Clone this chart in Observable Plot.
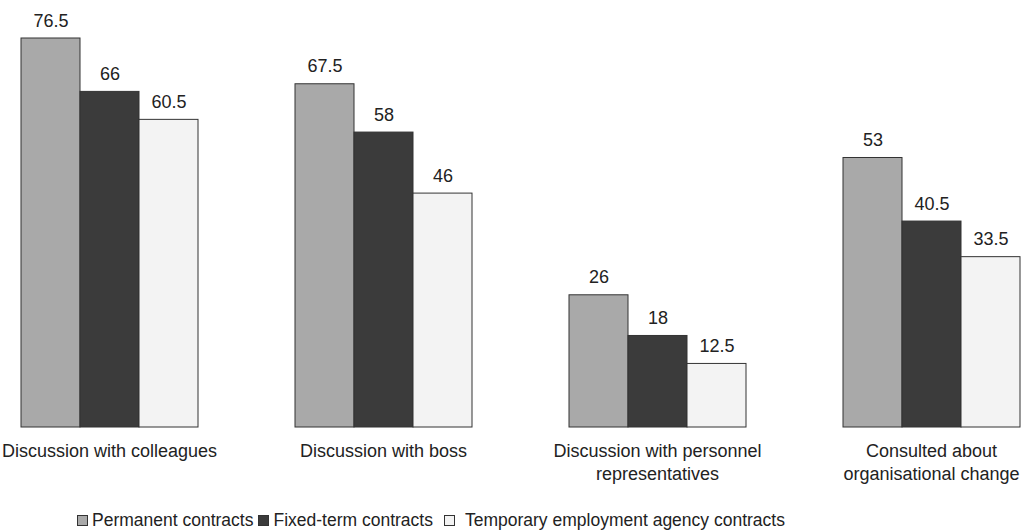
<!DOCTYPE html>
<html>
<head>
<meta charset="utf-8">
<script src="https://cdn.jsdelivr.net/npm/d3@7"></script>
<script src="https://cdn.jsdelivr.net/npm/@observablehq/plot@0.6"></script>
<style>
  body { margin: 0; background: #fff; font-family: "Liberation Sans", Arial, sans-serif; color: #222; }
  #legend { height: 40px; display: flex; align-items: center; padding-left: 77px; font-size: 17.5px; }
  #legend .item { display: flex; align-items: center; margin-right: 5px; }
  #legend .sw { width: 11px; height: 11px; border: 1px solid #333; margin-right: 4px; box-sizing: border-box; }
</style>
</head>
<body>
<div id="chart"></div>
<div id="legend"></div>
<script>
const categories = [
  "Discussion with colleagues",
  "Discussion with boss",
  "Discussion with personnel\nrepresentatives",
  "Consulted about\norganisational change"
];
const series = ["Permanent contracts", "Fixed-term contracts", "Temporary employment agency contracts"];
const permanent = [76.5, 67.5, 26, 53];
const fixedTerm = [66, 58, 18, 40.5];
const temporary = [60.5, 46, 12.5, 33.5];
const colors = ["#a9a9a9", "#3b3b3b", "#f3f3f3"];

const values = [permanent, fixedTerm, temporary];
const data = [];
categories.forEach((c, i) => {
  series.forEach((s, j) => data.push({category: c, series: s, value: values[j][i]}));
});

const chart = Plot.plot({
  width: 1029,
  height: 500,
  marginLeft: 19,
  marginRight: 8.5,
  marginTop: 38,
  marginBottom: 73,
  style: {fontFamily: "Liberation Sans, Arial, sans-serif", color: "#222", background: "#fff"},
  fx: {domain: categories, paddingInner: 0.3515, paddingOuter: 0, label: null},
  x: {domain: series, padding: 0, axis: null},
  y: {domain: [0, 76.5], axis: null},
  color: {domain: series, range: colors},
  marks: [
    Plot.barY(data, {fx: "category", x: "series", y: "value", fill: "series", stroke: "#333", strokeWidth: 1, inset: 0}),
    Plot.text(data, {fx: "category", x: "series", y: "value", text: d => String(d.value), lineAnchor: "bottom", dy: -12, fontSize: 18, fill: "#222"}),
    Plot.axisFx({anchor: "bottom", tickSize: 0, tickPadding: 14, fontSize: 18, lineHeight: 1.25, label: null, fill: "#222"})
  ]
});
document.getElementById("chart").appendChild(chart);

const legend = document.getElementById("legend");
series.forEach((s, j) => {
  const item = document.createElement("div");
  item.className = "item";
  const sw = document.createElement("span");
  sw.className = "sw";
  sw.style.background = colors[j];
  if (j === 2) { sw.style.marginRight = "10px"; sw.style.marginLeft = "6px"; }
  const t = document.createElement("span");
  t.textContent = s;
  item.appendChild(sw);
  item.appendChild(t);
  legend.appendChild(item);
});
</script>
</body>
</html>
